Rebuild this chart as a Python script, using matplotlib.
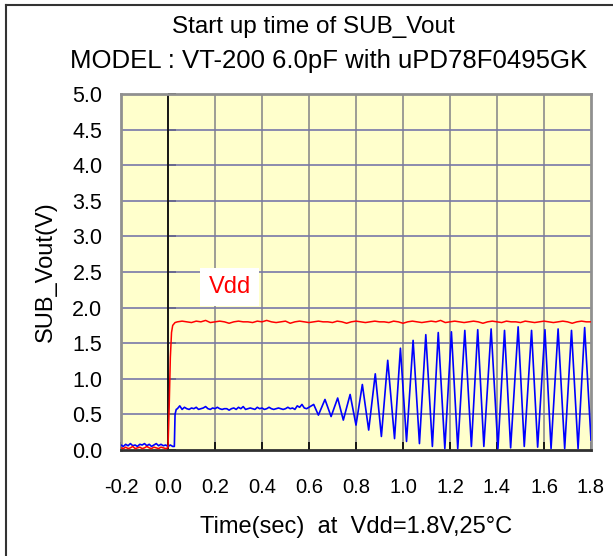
import numpy as np
import matplotlib
matplotlib.use("Agg")
import matplotlib.pyplot as plt
from matplotlib.lines import Line2D

plt.rcParams['font.family'] = ['Liberation Sans', 'DejaVu Sans']

title_lines = ["Start up time of SUB_Vout", "MODEL : VT-200 6.0pF with uPD78F0495GK"]
x_label = "Time(sec)  at  Vdd=1.8V,25°C"
y_label = "SUB_Vout(V)"
x_ticks = [-0.2, 0.0, 0.2, 0.4, 0.6, 0.8, 1.0, 1.2, 1.4, 1.6, 1.8]
y_ticks = [0.0, 0.5, 1.0, 1.5, 2.0, 2.5, 3.0, 3.5, 4.0, 4.5, 5.0]

# Vdd (red) trace
red_pre_t = np.arange(-0.20, 0.001, 0.01)
red_pre_v = [0.03, 0.02, 0.04, 0.02, 0.03, 0.05, 0.02, 0.03, 0.04, 0.02, 0.03,
             0.05, 0.03, 0.02, 0.04, 0.03, 0.02, 0.04, 0.03, 0.02, 0.03]
red_rise_t = [0.005, 0.01, 0.015, 0.02, 0.03]
red_rise_v = [0.60, 1.30, 1.65, 1.75, 1.79]
red_flat_t = np.arange(0.04, 1.8001, 0.02)
red_flat_v = [1.80, 1.81, 1.80, 1.79, 1.81, 1.80, 1.82, 1.79, 1.80, 1.81,
              1.80, 1.78, 1.80, 1.81, 1.80, 1.80, 1.79, 1.81, 1.80, 1.82,
              1.80, 1.79, 1.80, 1.81, 1.78, 1.80, 1.81, 1.80, 1.79, 1.80,
              1.81, 1.80, 1.80, 1.79, 1.81, 1.80, 1.78, 1.80, 1.81, 1.80,
              1.79, 1.80, 1.81, 1.80, 1.80, 1.79, 1.81, 1.80, 1.78, 1.80,
              1.81, 1.80, 1.79, 1.80, 1.81, 1.80, 1.82, 1.79, 1.80, 1.81,
              1.80, 1.79, 1.80, 1.81, 1.80, 1.78, 1.80, 1.81, 1.80, 1.79,
              1.81, 1.80, 1.80, 1.79, 1.81, 1.80, 1.79, 1.80, 1.81, 1.80,
              1.79, 1.80, 1.81, 1.80, 1.78, 1.80, 1.81, 1.80, 1.80]

# SUB_Vout (blue) trace
blue_pre_t = np.arange(-0.20, 0.021, 0.01)
blue_pre_v = [0.07, 0.05, 0.08, 0.06, 0.09, 0.06, 0.07, 0.05, 0.08, 0.07, 0.09,
              0.06, 0.08, 0.05, 0.07, 0.09, 0.06, 0.08, 0.06, 0.07, 0.05, 0.07, 0.05]
blue_jump_t = [0.027, 0.030, 0.035]
blue_jump_v = [0.05, 0.50, 0.57]
blue_flat_t = np.arange(0.04, 0.6001, 0.01)
blue_flat_v = [0.58, 0.62, 0.57, 0.60, 0.58, 0.57, 0.59, 0.58, 0.60, 0.57,
               0.58, 0.59, 0.61, 0.58, 0.57, 0.59, 0.58, 0.60, 0.58, 0.57,
               0.58, 0.58, 0.56, 0.58, 0.59, 0.57, 0.60, 0.58, 0.61, 0.57,
               0.58, 0.59, 0.58, 0.57, 0.60, 0.58, 0.59, 0.57, 0.58, 0.60,
               0.58, 0.57, 0.58, 0.59, 0.58, 0.57, 0.58, 0.60, 0.58, 0.59,
               0.57, 0.62, 0.60, 0.64, 0.59, 0.58, 0.60]
osc_t = [0.62, 0.64, 0.668, 0.694, 0.722, 0.746, 0.775, 0.80, 0.827, 0.854,
         0.882, 0.908, 0.935, 0.964, 0.989, 1.015, 1.043, 1.07, 1.097, 1.125,
         1.15, 1.178, 1.206, 1.233, 1.263, 1.291, 1.318, 1.344, 1.375, 1.404,
         1.432, 1.458, 1.49, 1.516, 1.547, 1.573, 1.604, 1.63, 1.66, 1.688,
         1.717, 1.745, 1.773, 1.80]
osc_v = [0.64, 0.49, 0.71, 0.47, 0.73, 0.42, 0.78, 0.35, 0.92, 0.28,
         1.07, 0.19, 1.26, 0.16, 1.43, 0.12, 1.54, 0.09, 1.62, 0.05,
         1.65, 0.02, 1.66, 0.02, 1.68, 0.05, 1.69, 0.05, 1.70, 0.02,
         1.68, 0.03, 1.73, 0.05, 1.68, 0.04, 1.69, 0.02, 1.70, 0.02,
         1.68, 0.02, 1.72, 0.14]

red_t = np.concatenate([red_pre_t, red_rise_t, red_flat_t])
red_v = np.concatenate([red_pre_v, red_rise_v, red_flat_v])
blue_t = np.concatenate([blue_pre_t, blue_jump_t, blue_flat_t, osc_t])
blue_v = np.concatenate([blue_pre_v, blue_jump_v, blue_flat_v, osc_v])

W, H = 613, 556
fig = plt.figure(figsize=(W / 100, H / 100), dpi=100)
fig.patch.set_facecolor('white')
ax = fig.add_axes([121 / W, 1 - 450 / H, (591 - 121) / W, (450 - 94) / H])
ax.set_facecolor('#FFFFCC')

ax.set_xlim(-0.2, 1.8)
ax.set_ylim(0, 5)
ax.set_xticks(x_ticks)
ax.set_yticks(y_ticks)
ax.set_xticklabels([f"{v:.1f}" for v in x_ticks])
ax.set_yticklabels([f"{v:.1f}" for v in y_ticks])

for v in x_ticks[1:-1]:
    ax.axvline(v, color='#8C8C8C', lw=1.2, zorder=1)
for v in y_ticks[1:-1]:
    ax.axhline(v, color='#7878A8', lw=1.2, zorder=1)
ax.axvline(0.0, color='black', lw=1.2, zorder=2)

for s in ['left', 'right', 'top']:
    ax.spines[s].set_color('#909090')
    ax.spines[s].set_linewidth(2)
ax.spines['bottom'].set_color('#303030')
ax.spines['bottom'].set_linewidth(2)

ax.tick_params(axis='x', direction='in', length=6, width=1.2, color='black',
               labelsize=14.5, pad=20)
ax.tick_params(axis='y', length=0, labelsize=15.5, pad=13.5)

sec = ax.secondary_yaxis(0.1)
sec.set_yticks(y_ticks)
sec.tick_params(axis='y', direction='in', length=6, width=1.2, color='black',
                labelleft=False)
sec.spines['left'].set_visible(False)

ax.plot(red_t, red_v, color='#FF0000', lw=1.1, zorder=4)
ax.plot(blue_t, blue_v, color='#0000FF', lw=1.2, zorder=3)

ax.text(0.263, 2.29, "Vdd", color='#FF0000', fontsize=17, ha='center', va='center',
        bbox=dict(facecolor='white', edgecolor='none', pad=6), zorder=5)

ax.set_xlabel(x_label, fontsize=17, labelpad=14)
ax.set_ylabel(y_label, fontsize=17, labelpad=11)

fig.text(313 / W, 1 - 27 / H, title_lines[0], fontsize=17.5, ha='center', va='center')
fig.text(329 / W, 1 - 61 / H, title_lines[1], fontsize=18.5, ha='center', va='center')

fig.add_artist(Line2D([6 / W, 6 / W], [0, 1 - 5 / H], color='#333333', lw=1.5))
fig.add_artist(Line2D([6 / W, 1], [1 - 5 / H, 1 - 5 / H], color='#333333', lw=1.5))

fig.savefig('out.png', dpi=100)
